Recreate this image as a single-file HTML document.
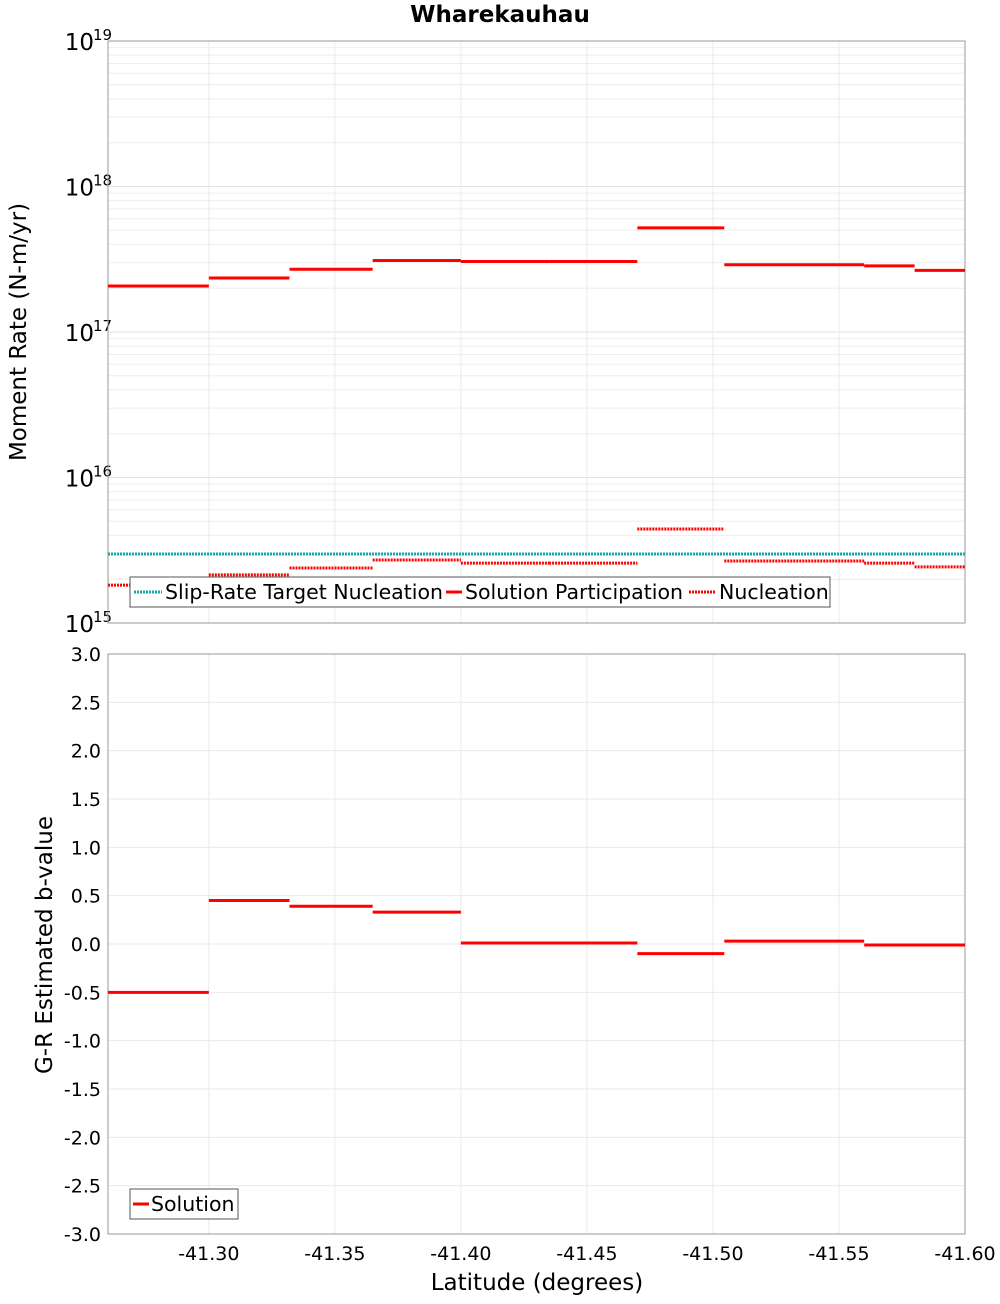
<!DOCTYPE html>
<html><head><meta charset="utf-8"><style>
body{margin:0;background:#fff;font-family:"DejaVu Sans","Liberation Sans",sans-serif}
svg text{font-family:"DejaVu Sans","Liberation Sans",sans-serif}
</style></head><body>
<svg id="c" width="1000" height="1300" xmlns="http://www.w3.org/2000/svg"></svg>
<script>
const bounds=[-41.26,-41.30,-41.332,-41.365,-41.40,-41.435,-41.47,-41.5045,-41.56,-41.58,-41.60];
const participation=[2.07e17,2.35e17,2.7e17,3.1e17,3.05e17,3.05e17,5.2e17,2.9e17,2.85e17,2.65e17];
const nucleation=[1.82e15,2.14e15,2.39e15,2.71e15,2.58e15,2.58e15,4.43e15,2.67e15,2.58e15,2.43e15];
const targetNucleation=2.98e15;
const bBounds=[-41.26,-41.30,-41.332,-41.365,-41.40,-41.47,-41.5045,-41.56,-41.60];
const bValues=[-0.5,0.45,0.39,0.33,0.01,-0.1,0.03,-0.01];
const xTicks=["-41.30","-41.35","-41.40","-41.45","-41.50","-41.55","-41.60"];
const bTicks=["3.0","2.5","2.0","1.5","1.0","0.5","0.0","-0.5","-1.0","-1.5","-2.0","-2.5","-3.0"];
const decades=[15,16,17,18,19];

const svg=document.getElementById('c');const NS='http://www.w3.org/2000/svg';
function mk(t,a,p){const e=document.createElementNS(NS,t);for(const k in a)e.setAttribute(k,a[k]);(p||svg).appendChild(e);return e;}
const L=108,R=965,T1=41,B1=623,T2=654,B2=1234;
const x=v=>L+(v-(-41.26))/(-0.34)*(R-L);
const y1=v=>B1-(Math.log10(v)-15)/4*(B1-T1);
const y2=v=>B2-(v+3)/6*(B2-T2);
for(let d=15;d<19;d++)for(let m=1;m<10;m++){const yy=y1(m*Math.pow(10,d));const g=mk('line',{x1:L,x2:R,y1:yy,y2:yy,stroke:m==1?'#e2e2e2':'#eeeeee','stroke-width':1});}
xTicks.forEach(t=>{const xx=x(+t);const g=mk('line',{x1:xx,x2:xx,y1:T1,y2:B1,stroke:'#eaeaea'});
const g2=mk('line',{x1:xx,x2:xx,y1:T2,y2:B2,stroke:'#eaeaea'});
const tx=mk('text',{x:xx,y:1260,'text-anchor':'middle','font-size':19});tx.textContent=t;});
bTicks.forEach(t=>{const yy=y2(+t);const g=mk('line',{x1:L,x2:R,y1:yy,y2:yy,stroke:'#eaeaea'});
const tx=mk('text',{x:101,y:yy+7,'text-anchor':'end','font-size':19});tx.textContent=t;});
decades.forEach(d=>{const yy=y1(Math.pow(10,d));const tx=mk('text',{x:94,y:yy+9,'text-anchor':'end','font-size':23});tx.textContent='10';
const s=mk('text',{x:93,y:yy-1,'font-size':15});s.textContent=String(d);});
let f=mk('rect',{x:L,y:T1,width:R-L,height:B1-T1,fill:'none',stroke:'#999'});
f=mk('rect',{x:L,y:T2,width:R-L,height:B2-T2,fill:'none',stroke:'#999'});
const tl=mk('line',{x1:L,x2:R,y1:y1(targetNucleation),y2:y1(targetNucleation),stroke:'#1aa7a7','stroke-width':3,'stroke-dasharray':'2,1'});
participation.forEach((v,i)=>{const l=mk('line',{x1:x(bounds[i]),x2:x(bounds[i+1]),y1:y1(v),y2:y1(v),stroke:'#ff0000','stroke-width':3});});
nucleation.forEach((v,i)=>{const l=mk('line',{x1:x(bounds[i]),x2:x(bounds[i+1]),y1:y1(v),y2:y1(v),stroke:'#ff0000','stroke-width':3,'stroke-dasharray':'2,1'});});
bValues.forEach((v,i)=>{const l=mk('line',{x1:x(bBounds[i]),x2:x(bBounds[i+1]),y1:y2(v),y2:y2(v),stroke:'#ff0000','stroke-width':3});});
let lg=mk('g',{});
mk('rect',{x:130,y:577,width:700,height:30,fill:'#fff',stroke:'#555'},lg);
mk('line',{x1:134,x2:162,y1:592,y2:592,stroke:'#1aa7a7','stroke-width':3,'stroke-dasharray':'2,1'},lg);
let t=mk('text',{x:165,y:599,'font-size':20.5},lg);t.textContent='Slip-Rate Target Nucleation';
mk('line',{x1:446,x2:462,y1:592,y2:592,stroke:'#f00','stroke-width':3},lg);
t=mk('text',{x:465,y:599,'font-size':20.5},lg);t.textContent='Solution Participation';
mk('line',{x1:689,x2:716,y1:592,y2:592,stroke:'#f00','stroke-width':3,'stroke-dasharray':'2,1'},lg);
t=mk('text',{x:719,y:599,'font-size':20.5},lg);t.textContent='Nucleation';
lg=mk('g',{});
mk('rect',{x:130,y:1189,width:108,height:30,fill:'#fff',stroke:'#555'},lg);
mk('line',{x1:133,x2:149,y1:1204,y2:1204,stroke:'#f00','stroke-width':3},lg);
t=mk('text',{x:151,y:1211,'font-size':20.5},lg);t.textContent='Solution';
t=mk('text',{x:500,y:22,'text-anchor':'middle','font-size':23,'font-weight':'bold'});t.textContent='Wharekauhau';
t=mk('text',{x:537,y:1290,'text-anchor':'middle','font-size':23});t.textContent='Latitude (degrees)';
t=mk('text',{x:0,y:0,'text-anchor':'middle','font-size':23,transform:'translate(26,332) rotate(-90)'});t.textContent='Moment Rate (N-m/yr)';
t=mk('text',{x:0,y:0,'text-anchor':'middle','font-size':23,transform:'translate(52,945) rotate(-90)'});t.textContent='G-R Estimated b-value';
</script>
</body></html>
